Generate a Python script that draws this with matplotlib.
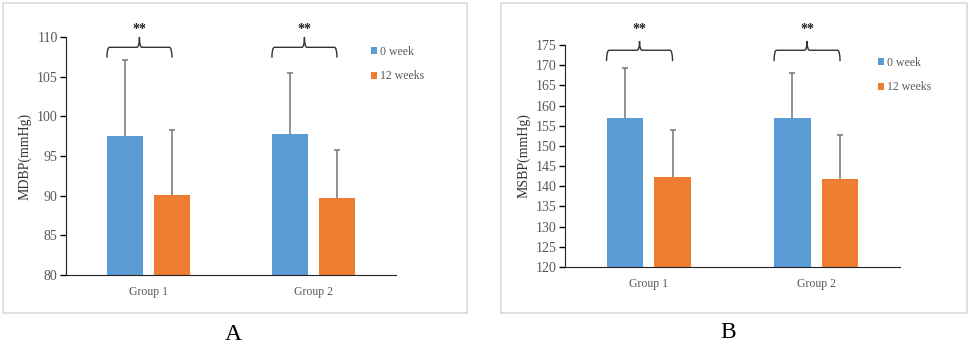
import numpy as np
import matplotlib
matplotlib.use("Agg")
import matplotlib.pyplot as plt
from matplotlib.path import Path
from matplotlib.patches import PathPatch, Rectangle

groups = ["Group 1", "Group 2"]
series = ["0 week", "12 weeks"]

# panel A - diastolic
mdbp_0 = [97.5, 97.8]
mdbp_0_sd = [9.6, 7.6]
mdbp_12 = [90.1, 89.7]
mdbp_12_sd = [8.2, 6.1]

# panel B - systolic
msbp_0 = [156.8, 157.0]
msbp_0_sd = [12.5, 11.1]
msbp_12 = [142.4, 141.8]
msbp_12_sd = [11.6, 11.0]

BLUE = "#5B9BD5"
ORANGE = "#ED7D31"
GREY = "#595959"
W, H = 969, 347

plt.rcParams['font.family'] = ['Liberation Serif', 'DejaVu Serif']

fig = plt.figure(figsize=(W / 100, H / 100), dpi=100)


def px_axes(l, t, r, b):
    return fig.add_axes([l / W, 1 - b / H, (r - l) / W, (b - t) / H])


def brace(ax, x0, x1, yb, yl, yp):
    xm = (x0 + x1) / 2
    dx = (x1 - x0) * 0.04
    verts = [(x0, yb), (x0, yl), (x0 + dx, yl), (xm - dx, yl), (xm, yl), (xm, yp),
             (xm, yl), (xm + dx, yl), (x1 - dx, yl), (x1, yl), (x1, yb)]
    codes = [Path.MOVETO, Path.CURVE3, Path.CURVE3, Path.LINETO, Path.CURVE3, Path.CURVE3,
             Path.CURVE3, Path.CURVE3, Path.LINETO, Path.CURVE3, Path.CURVE3]
    ax.add_patch(PathPatch(Path(verts, codes), fill=False, lw=1.0, ec="#333333", clip_on=False))


def upper_err(ax, xs, vals, sd):
    eb = ax.errorbar(xs, vals, yerr=[np.zeros(len(xs)), sd], fmt="none", ecolor="#7f7f7f",
                     elinewidth=1.2, capsize=2.2, capthick=1.2, zorder=3)
    eb[1][0].set_visible(False)  # no cap at bar top


def panel(box, vals0, sd0, vals12, sd12, ylim, step, ylabel, br, leg_pos, letter_pos, letter, frame):
    ax = px_axes(*box)
    x = np.arange(len(groups))
    w, off = 0.22, 0.142
    b0 = ax.bar(x - off, vals0, w, color=BLUE, label=series[0], zorder=2)
    b1 = ax.bar(x + off, vals12, w, color=ORANGE, label=series[1], zorder=2)
    upper_err(ax, x - off, vals0, sd0)
    upper_err(ax, x + off, vals12, sd12)
    ax.set_xlim(-0.5, 1.5)
    ax.set_ylim(*ylim)
    ax.set_yticks(np.arange(ylim[0], ylim[1] + 0.1, step))
    ax.set_xticks(x)
    ax.set_xticklabels(groups)
    ax.tick_params(axis="x", length=0, pad=8, labelsize=8.5, labelcolor=GREY)
    ax.tick_params(axis="y", length=4, width=1, labelsize=10, labelcolor=GREY, pad=2)
    for s in ["top", "right"]:
        ax.spines[s].set_visible(False)
    ax.spines["left"].set_color("#222222")
    ax.spines["bottom"].set_color("#222222")
    ax.set_ylabel(ylabel, fontsize=10, color="#333333", labelpad=4)
    yb, yl, yp, ys = br
    for i in x:
        brace(ax, i - off - w / 2, i + off, yb, yl, yp)
        ax.text((2 * i - w / 2) / 2, ys, "**", ha="center", va="center", fontsize=10,
                fontweight="bold", color="#222222", clip_on=False)
    leg = fig.legend(handles=[b0, b1], loc="upper left",
                     bbox_to_anchor=(leg_pos[0] / W, 1 - leg_pos[1] / H),
                     frameon=False, fontsize=8.5, handlelength=0.5, handleheight=0.5,
                     handletextpad=0.25, labelspacing=1.05, borderaxespad=0, borderpad=0)
    for t in leg.get_texts():
        t.set_color(GREY)
    fig.text(letter_pos[0] / W, 1 - letter_pos[1] / H, letter, ha="center", va="center", fontsize=17)
    fig.patches.append(Rectangle((frame[0] / W, 1 - frame[3] / H), (frame[2] - frame[0]) / W,
                                 (frame[3] - frame[1]) / H, transform=fig.transFigure,
                                 fill=False, ec="#d9d9d9", lw=1.2))
    return ax


panel((66, 37, 396, 275), mdbp_0, mdbp_0_sd, mdbp_12, mdbp_12_sd, (80, 110), 5,
      "MDBP(mmHg)", (107.4, 108.7, 110.0, 111.0), (371, 46), (233, 335), "A", (3, 3, 467, 313))
panel((565, 45, 900, 267), msbp_0, msbp_0_sd, msbp_12, msbp_12_sd, (120, 175), 5,
      "MSBP(mmHg)", (171.0, 173.7, 176.0, 178.9), (878, 57), (728, 332), "B", (501, 3, 967, 313))

fig.savefig("out.png", dpi=100)
